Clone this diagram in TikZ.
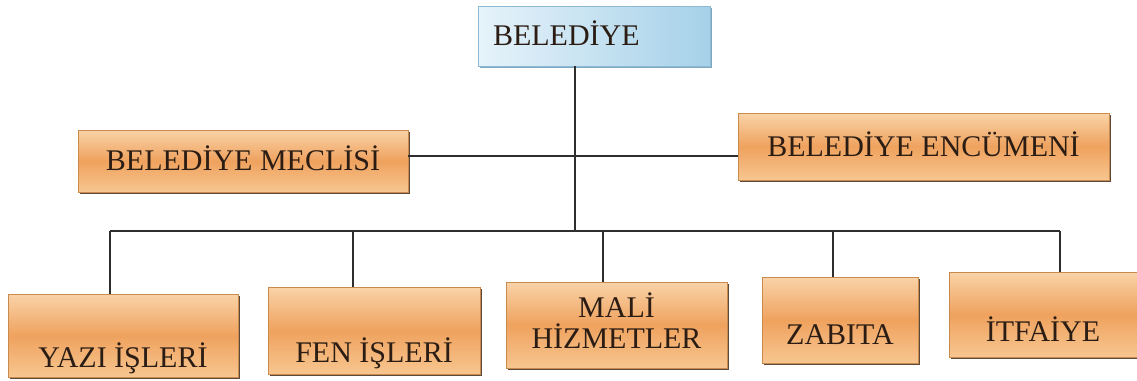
\documentclass[tikz,border=0pt]{standalone}
\usepackage{fontspec}
\setmainfont{Liberation Serif}
\usetikzlibrary{shadows}
\definecolor{boxtop}{HTML}{F9D3A8}
\definecolor{boxmid}{HTML}{EFA25E}
\definecolor{boxbot}{HTML}{F7C690}
\definecolor{boxline}{HTML}{C98A4E}
\definecolor{shadowc}{HTML}{5E4A3A}
\definecolor{txt}{HTML}{2B1D14}
\definecolor{bluel}{HTML}{E6F3FA}
\definecolor{bluer}{HTML}{A6D1E9}
\definecolor{blueline}{HTML}{8DB9D2}
\definecolor{blueshadow}{HTML}{7FA9C2}
\definecolor{linec}{HTML}{2E2E2E}
\begin{document}
\begin{tikzpicture}[x=0.75pt,y=-0.75pt,
  basebox/.style={line width=0.5pt, font=\fontsize{22.5}{23}\selectfont, text=txt,
    inner sep=0pt, text height=14.8pt, text depth=0pt},
  obox/.style={basebox, draw=boxline, top color=boxtop, bottom color=boxbot, middle color=boxmid,
    general shadow={fill=shadowc, shadow xshift=1.6pt, shadow yshift=-1.8pt}},
  bbox/.style={basebox, draw=blueline, left color=bluel, right color=bluer,
    general shadow={fill=blueshadow, shadow xshift=1.2pt, shadow yshift=-1.5pt}},
  conn/.style={draw=linec, line width=0.9pt}]
\useasboundingbox (0,0) rectangle (1137,380);

\node[bbox, minimum height=45pt, inner xsep=11.25pt, text width=151.5pt, align=left] (bel) at (594,36) {BELEDİYE};
\node[obox, minimum width=247.5pt, minimum height=46.5pt] (mec) at (243,161) {BELEDİYE MECLİSİ};
\node[obox, minimum width=278.25pt, minimum height=50.25pt] (enc) at (923.5,146.5) {BELEDİYE ENCÜMENİ};

\node[obox, minimum width=172.5pt, minimum height=62.25pt, text height=47.6pt] (yazi) at (123,335.5) {YAZI İŞLERİ};
\node[obox, minimum width=159pt, minimum height=65.25pt, text height=48pt] (fen) at (374,330.5) {FEN İŞLERİ};
\node[obox, minimum width=165.75pt, minimum height=64.5pt, text height=37.5pt, text depth=3pt, align=center] (mali) at (616.5,325) {MALİ\\HİZMETLER};
\node[obox, minimum width=117pt, minimum height=64.5pt, text height=37pt] (zab) at (840,320) {ZABITA};
\node[obox, minimum width=141pt, minimum height=63.75pt, text height=40.6pt] (itf) at (1043,314.5) {İTFAİYE};

\coordinate (mid) at (575,156);
\coordinate (trunk) at (575,231);
\coordinate (d1) at (110,231);
\coordinate (d2) at (353,231);
\coordinate (d3) at (603,231);
\coordinate (d4) at (833,231);
\coordinate (d5) at (1060,231);

\draw[conn] (bel.south -| trunk) -- (trunk);
\draw[conn] (mec.east |- mid) -- (enc.west |- mid);
\draw[conn] (d1) -- (d5);
\draw[conn] (d1) -- (d1 |- yazi.north);
\draw[conn] (d2) -- (d2 |- fen.north);
\draw[conn] (d3) -- (d3 |- mali.north);
\draw[conn] (d4) -- (d4 |- zab.north);
\draw[conn] (d5) -- (d5 |- itf.north);
\end{tikzpicture}
\end{document}
